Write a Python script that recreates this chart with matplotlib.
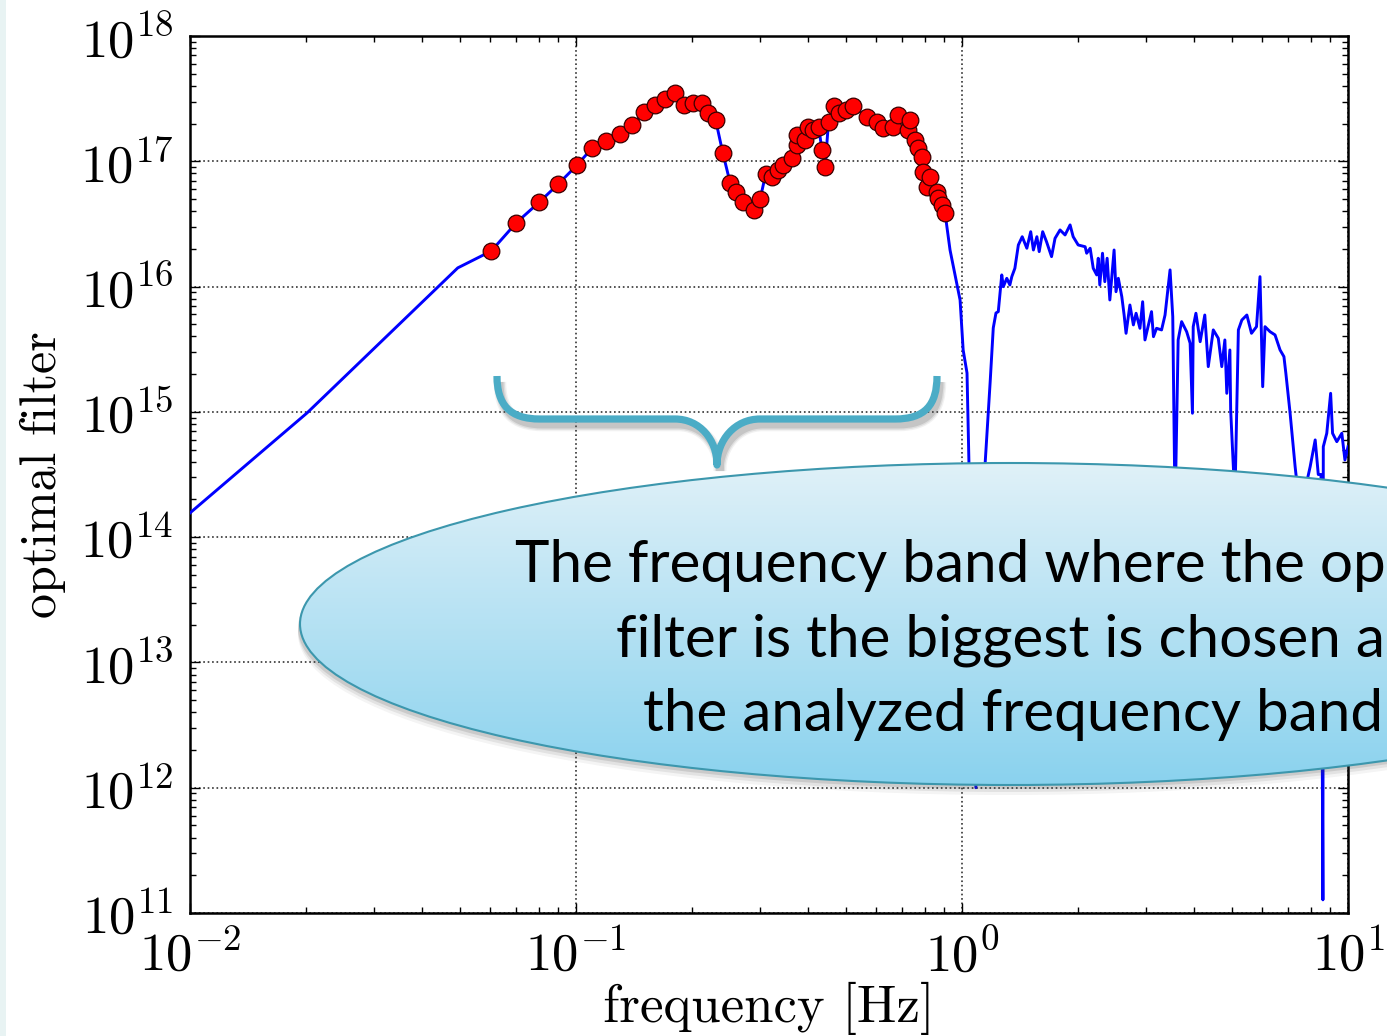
import numpy as np
import matplotlib
matplotlib.use("Agg")
import matplotlib.pyplot as plt
from matplotlib.patches import Ellipse, PathPatch, Rectangle
from matplotlib.path import Path
from matplotlib.ticker import LogLocator, FuncFormatter

plt.rcParams['mathtext.fontset'] = 'cm'

# optimal filter curve
freq_low = [0.010, 0.0201, 0.0494]
filt_low = [1.56e14, 9.8e14, 1.41e16]

# points marked with red dots (analysed band)
freq_band = [0.0603, 0.0701, 0.0804, 0.0900, 0.1005, 0.110, 0.1197, 0.130, 0.140, 0.150,
             0.160, 0.170, 0.180, 0.190, 0.201, 0.212, 0.220, 0.230, 0.240, 0.251,
             0.260, 0.271, 0.289, 0.300, 0.310, 0.321, 0.334, 0.344, 0.362, 0.373,
             0.373, 0.392, 0.400, 0.412, 0.425, 0.434, 0.442, 0.451, 0.465, 0.479,
             0.502, 0.522, 0.566, 0.601, 0.625, 0.664, 0.684, 0.726, 0.733, 0.755,
             0.771, 0.787, 0.793, 0.811, 0.826, 0.859, 0.869, 0.886, 0.904]
filt_band = [1.92e16, 3.24e16, 4.73e16, 6.59e16, 9.29e16, 1.27e17, 1.46e17, 1.64e17, 1.94e17, 2.46e17,
             2.81e17, 3.16e17, 3.49e17, 2.81e17, 2.90e17, 2.90e17, 2.42e17, 2.14e17, 1.17e17, 6.67e16,
             5.72e16, 4.71e16, 4.08e16, 5.00e16, 7.92e16, 7.54e16, 8.53e16, 9.34e16, 1.06e17, 1.35e17,
             1.62e17, 1.48e17, 1.89e17, 1.78e17, 1.89e17, 1.22e17, 9.06e16, 2.07e17, 2.76e17, 2.42e17,
             2.57e17, 2.76e17, 2.27e17, 2.07e17, 1.83e17, 1.89e17, 2.34e17, 1.78e17, 2.14e17, 1.48e17,
             1.27e17, 1.09e17, 8.26e16, 6.27e16, 7.54e16, 5.72e16, 5.07e16, 4.48e16, 3.85e16]

# above the band (log10 of frequency and of filter)
log_freq_high = [-0.031, -0.005, 0.003, 0.013, 0.018, 0.036, 0.060, 0.073, 0.081, 0.088,
                 0.094, 0.098, 0.103, 0.107, 0.116, 0.124, 0.129, 0.137, 0.146, 0.156,
                 0.168, 0.178, 0.185, 0.194, 0.200, 0.209, 0.219, 0.232, 0.241, 0.254,
                 0.267, 0.280, 0.288, 0.301, 0.319, 0.323, 0.332, 0.340, 0.349, 0.353,
                 0.357, 0.364, 0.370, 0.376, 0.383, 0.394, 0.399, 0.405, 0.414, 0.420,
                 0.425, 0.435, 0.444, 0.451, 0.461, 0.468, 0.474, 0.483, 0.491, 0.496,
                 0.504, 0.517, 0.526, 0.539, 0.546, 0.552, 0.560, 0.569, 0.582, 0.591,
                 0.597, 0.599, 0.606, 0.617, 0.629, 0.638, 0.651, 0.664, 0.673, 0.681,
                 0.686, 0.694, 0.696, 0.707, 0.716, 0.725, 0.738, 0.750, 0.763, 0.772,
                 0.779, 0.785, 0.798, 0.811, 0.824, 0.834, 0.839, 0.850, 0.863, 0.876,
                 0.902, 0.915, 0.923, 0.930, 0.935, 0.936, 0.945, 0.955, 0.960, 0.971,
                 0.984, 0.992, 1.000]
log_filt_high = [16.292, 15.893, 15.494, 15.310, 14.592, 12.0, 14.592, 15.241, 15.670, 15.789,
                 15.800, 15.933, 16.093, 15.999, 16.066, 16.013, 16.079, 16.146, 16.332, 16.398,
                 16.306, 16.438, 16.292, 16.398, 16.279, 16.438, 16.358, 16.239, 16.385, 16.452,
                 16.412, 16.492, 16.398, 16.332, 16.318, 16.266, 16.306, 16.146, 16.093, 16.226,
                 16.013, 16.266, 16.039, 16.226, 15.893, 16.292, 15.959, 16.066, 15.919, 15.773,
                 15.627, 15.853, 15.694, 15.787, 15.667, 15.879, 15.574, 15.694, 15.800, 15.600,
                 15.667, 15.654, 15.773, 16.133, 15.760, 14.2, 15.574, 15.720, 15.640, 15.548,
                 14.989, 15.680, 15.787, 15.560, 15.773, 15.361, 15.654, 15.587, 15.361, 15.574,
                 15.148, 15.494, 15.015, 14.3, 15.654, 15.733, 15.773, 15.627, 15.680, 16.079,
                 15.201, 15.680, 15.640, 15.614, 15.494, 15.441, 15.308, 14.989, 14.563, 14.2,
                 14.563, 14.776, 14.5, 14.5, 11.105, 14.722, 14.829, 15.148, 14.829, 14.762,
                 14.829, 14.616, 14.722]

callout_text = "The frequency band where the optimal\nfilter is the biggest is chosen as\nthe analyzed frequency band"

W, H = 1387, 1036
fig = plt.figure(figsize=(W / 100, H / 100), dpi=100)
ax = fig.add_axes([190 / W, 1 - 913 / H, (1348 - 190) / W, (913 - 36) / H])

freq_high = list(10 ** np.array(log_freq_high))
filt_high = list(10 ** np.array(log_filt_high))
freq_all = freq_low + freq_band + freq_high
filt_all = filt_low + filt_band + filt_high
ax.plot(freq_all, filt_all, color='#0000ff', lw=2.1, zorder=3)
ax.plot(freq_band, filt_band, 'o', color='#ff0000', mec='#3a0000', mew=0.9, ms=12, zorder=4)

ax.set_xscale('log')
ax.set_yscale('log')
ax.set_xlim(1e-2, 1e1)
ax.set_ylim(1e11, 1e18)
ax.yaxis.set_major_locator(LogLocator(base=10, numticks=20))
ax.yaxis.set_minor_locator(LogLocator(base=10, subs=np.arange(2, 10), numticks=20))
pow_fmt = FuncFormatter(lambda v, p: r'$10^{%d}$' % int(round(np.log10(v))))
ax.xaxis.set_major_formatter(pow_fmt)
ax.yaxis.set_major_formatter(pow_fmt)

ax.tick_params(which='both', direction='in', top=True, right=True, width=1)
ax.tick_params(which='major', length=7, labelsize=38)
ax.tick_params(axis='x', which='major', pad=12)
ax.tick_params(axis='y', which='major', pad=12)
ax.tick_params(which='minor', length=4)
for s in ax.spines.values():
    s.set_linewidth(1.8)
ax.grid(True, which='major', linestyle=':', color='#333333', lw=1.2)

ax.set_xlabel('frequency [Hz]', fontsize=38, family='cmr10', labelpad=0)
ax.set_ylabel('optimal filter', fontsize=36, family='cmr10', labelpad=10)

# overlay in pixel coordinates for the callout and brace
ov = fig.add_axes([0, 0, 1, 1], zorder=10)
ov.set_xlim(0, W)
ov.set_ylim(H, 0)
ov.axis('off')
ov.patch.set_alpha(0)

ov.add_patch(Rectangle((0, 0), 6, H, color='#e8f3f3', lw=0))

# brace
bx = [497, 497, 510, 540, 675, 700, 717, 717, 717, 735, 760, 895, 925, 937, 937]
by = [376, 405, 419, 419, 419, 419, 440, 465, 440, 419, 419, 419, 419, 405, 376]
codes = [Path.MOVETO, Path.CURVE4, Path.CURVE4, Path.CURVE4, Path.LINETO,
         Path.CURVE4, Path.CURVE4, Path.CURVE4, Path.CURVE4, Path.CURVE4, Path.CURVE4,
         Path.LINETO, Path.CURVE4, Path.CURVE4, Path.CURVE4]
brace = Path(list(zip(bx, by)), codes)
for k, a in [(9, 0.08), (7, 0.12), (5, 0.18)]:
    sh = Path(list(zip(np.array(bx) + 3, np.array(by) + 6)), codes)
    ov.add_patch(PathPatch(sh, fc='none', ec='#555555', lw=k, alpha=a, capstyle='butt'))
ov.add_patch(PathPatch(brace, fc='none', ec='#4bacc6', lw=5.2, capstyle='butt', joinstyle='round'))

# callout ellipse with shadow and gradient
cx, cy, ew, eh = 1010, 624, 1420, 322
for d, a in [(10, 0.06), (7, 0.1), (4, 0.15)]:
    ov.add_patch(Ellipse((cx - 2, cy + d), ew, eh, fc='#444444', ec='none', alpha=a))
ell = Ellipse((cx, cy), ew, eh, fc='none', ec='#3c97ad', lw=1.5, zorder=3)
grad = np.linspace(0, 1, 256)[:, None]
top = np.array([224, 241, 248]) / 255
bot = np.array([138, 210, 238]) / 255
img = top[None, None, :] * (1 - grad[:, :, None]) + bot[None, None, :] * grad[:, :, None]
im = ov.imshow(img, extent=[cx - ew / 2, cx + ew / 2, cy + eh / 2, cy - eh / 2],
               aspect='auto', zorder=2, interpolation='bilinear')
clip = Ellipse((cx, cy), ew, eh, transform=ov.transData)
im.set_clip_path(clip)
ov.add_patch(ell)
ov.set_xlim(0, W)
ov.set_ylim(H, 0)

ov.text(1013, 640, callout_text, ha='center', va='center', fontsize=42,
        family='Lato', color='black', linespacing=1.5, zorder=5)

fig.savefig('out.png', dpi=100)
